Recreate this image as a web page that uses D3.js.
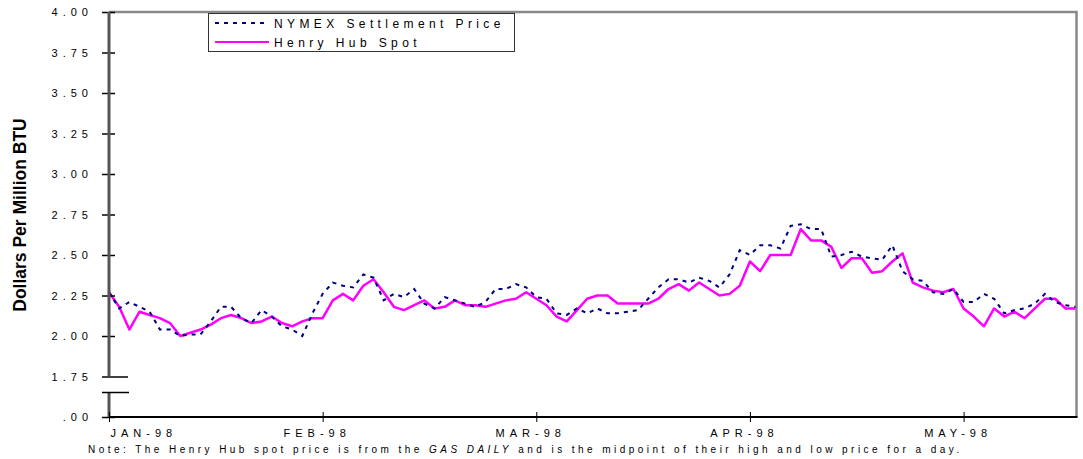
<!DOCTYPE html>
<html>
  <head>
    <title>NYMEX vs Henry Hub</title>
    <meta http-equiv="Content-Type" content="text/html;charset=utf-8">
    <script src="https://cdn.jsdelivr.net/npm/d3@7"></script>
    <style>
      body { margin: 0; background: #fff; }
      text { font-family: Arial, 'Liberation Sans', sans-serif; fill: #000; }
      .tick text { font-size: 11px; }
    </style>
  </head>
  <body>
    <div id="chart"></div>
    <script>
      // series, one value per trading day (Jan - May 1998)
      var nymex = [
        2.27, 2.17, 2.21, 2.18, 2.15, 2.04, 2.04, 2.00, 2.01, 2.01,
        2.09, 2.18, 2.18, 2.11, 2.08, 2.16, 2.12, 2.06, 2.04, 2.00,
        2.14, 2.26, 2.33, 2.31, 2.30, 2.38, 2.36, 2.22, 2.26, 2.24,
        2.29, 2.20, 2.17, 2.24, 2.22, 2.20, 2.18, 2.21, 2.29, 2.29,
        2.32, 2.30, 2.24, 2.23, 2.14, 2.13, 2.17, 2.14, 2.17, 2.14,
        2.14, 2.15, 2.16, 2.23, 2.30, 2.35, 2.35, 2.33, 2.36, 2.34,
        2.30, 2.38, 2.53, 2.50, 2.56, 2.56, 2.54, 2.68, 2.69, 2.66,
        2.66, 2.49, 2.50, 2.52, 2.49, 2.48, 2.47, 2.56, 2.40, 2.35,
        2.34, 2.27, 2.26, 2.29, 2.21, 2.21, 2.26, 2.23, 2.14, 2.16,
        2.17, 2.20, 2.26, 2.21, 2.19, 2.18
      ];
      var henryHub = [
        2.27, 2.18, 2.04, 2.15, 2.13, 2.11, 2.08, 2.00, 2.02, 2.04,
        2.07, 2.11, 2.13, 2.11, 2.08, 2.09, 2.12, 2.08, 2.06, 2.09,
        2.11, 2.11, 2.22, 2.26, 2.22, 2.31, 2.35, 2.27, 2.18, 2.16,
        2.19, 2.22, 2.17, 2.18, 2.22, 2.19, 2.19, 2.18, 2.20, 2.22,
        2.23, 2.27, 2.23, 2.19, 2.12, 2.09, 2.16, 2.23, 2.25, 2.25,
        2.20, 2.20, 2.20, 2.20, 2.23, 2.29, 2.32, 2.28, 2.33, 2.29,
        2.25, 2.26, 2.31, 2.46, 2.40, 2.50, 2.50, 2.50, 2.66, 2.59,
        2.59, 2.55, 2.42, 2.48, 2.48, 2.39, 2.40, 2.46, 2.51, 2.33,
        2.30, 2.28, 2.27, 2.29, 2.17, 2.12, 2.06, 2.17, 2.12, 2.15,
        2.11, 2.17, 2.23, 2.23, 2.17, 2.17
      ];
      var monthLabels = ['JAN-98', 'FEB-98', 'MAR-98', 'APR-98', 'MAY-98'];
      var monthStarts = [0, 21, 42, 63, 84];
      var yTicks = [1.5, 1.75, 2.0, 2.25, 2.5, 2.75, 3.0, 3.25, 3.5, 3.75, 4.0];
      var seriesNames = ['NYMEX Settlement Price', 'Henry Hub Spot'];

      (function(d3) {
        'use strict';

        var width = 1083;
        var height = 459;
        var left = 109, right = 1075.5, top = 12, bottom = 417;

        var svg = d3.select('#chart')
          .append('svg')
          .attr('width', width)
          .attr('height', height);

        var x = d3.scaleLinear()
          .domain([0, henryHub.length - 1])
          .range([left, right]);

        // axis starts at 1.50 but is labelled .00 (broken axis)
        var y = d3.scaleLinear()
          .domain([1.5, 4.0])
          .range([bottom, top]);

        // frame: grey top and right edges
        svg.append('path')
          .attr('d', 'M' + left + ',' + top + 'H' + (right + 1) + 'V' + bottom)
          .attr('fill', 'none')
          .attr('stroke', '#8a8a8a')
          .attr('stroke-width', 2.5);

        // lines
        var line = d3.line()
          .x(function(d, i) { return x(i); })
          .y(function(d) { return y(d); });

        svg.append('path')
          .datum(henryHub)
          .attr('d', line)
          .attr('fill', 'none')
          .attr('stroke', '#ff00ff')
          .attr('stroke-width', 2.5)
          .attr('stroke-linejoin', 'round');

        svg.append('path')
          .datum(nymex)
          .attr('d', line)
          .attr('fill', 'none')
          .attr('stroke', '#000080')
          .attr('stroke-width', 2)
          .attr('stroke-dasharray', '4,5');

        // y axis
        var yAxis = svg.append('g')
          .attr('transform', 'translate(' + left + ',0)')
          .call(d3.axisLeft(y)
            .tickValues(yTicks)
            .tickFormat(function(d) { return d === 1.5 ? '.00' : d3.format('.2f')(d); }));
        yAxis.select('.domain').remove();
        yAxis.selectAll('.tick line')
          .attr('x1', -7)
          .attr('x2', function(d) { return d === 1.75 ? 19 : 6; })
          .attr('stroke', '#000')
          .attr('stroke-width', 1.5);
        yAxis.selectAll('.tick text')
          .attr('x', -16)
          .attr('letter-spacing', '5px');

        // axis line with the break between .00 and 1.75
        var breakY = y(1.75) + 16;
        yAxis.append('path')
          .attr('d', 'M0,' + top + 'V' + y(1.75) + 'M0,' + breakY + 'V' + bottom)
          .attr('stroke', '#555')
          .attr('stroke-width', 3);
        yAxis.append('line')
          .attr('x1', -7).attr('x2', 20)
          .attr('y1', breakY).attr('y2', breakY)
          .attr('stroke', '#000')
          .attr('stroke-width', 1.5);

        // x axis
        var xAxis = svg.append('g')
          .attr('transform', 'translate(0,' + bottom + ')')
          .call(d3.axisBottom(x)
            .tickValues(monthStarts)
            .tickFormat(function(d, i) { return monthLabels[i]; }));
        xAxis.select('.domain')
          .attr('d', 'M' + left + ',0H' + (right + 2))
          .attr('stroke', '#000')
          .attr('stroke-width', 2);
        xAxis.selectAll('.tick line')
          .attr('y1', -5)
          .attr('y2', 5)
          .attr('stroke', '#000');
        xAxis.selectAll('.tick text')
          .attr('dy', null)
          .attr('y', 19.5)
          .attr('font-size', '12.5px')
          .attr('letter-spacing', '5px')
          .attr('text-anchor', function(d, i) { return i === 0 ? 'start' : 'middle'; })
          .attr('dx', function(d, i) { return i === 0 ? 1 : -6; });

        // y title
        svg.append('text')
          .attr('transform', 'translate(26,215) rotate(-90)')
          .attr('text-anchor', 'middle')
          .style('font-size', '17.5px')
          .style('font-weight', 'bold')
          .text('Dollars Per Million BTU');

        // note
        var note = svg.append('text')
          .attr('x', 88)
          .attr('y', 453)
          .attr('font-size', '10px')
          .attr('letter-spacing', '3.45px');
        note.append('tspan').text('Note: The Henry Hub spot price is from the ');
        note.append('tspan').style('font-style', 'italic').text('GAS DAILY');
        note.append('tspan').text(' and is the midpoint of their high and low price for a day.');

        // legend
        var legend = svg.append('g');
        legend.append('rect')
          .attr('x', 208.5).attr('y', 13.5)
          .attr('width', 306).attr('height', 38)
          .attr('fill', '#fff')
          .attr('stroke', '#333');

        var legendItems = legend.selectAll('.legend')
          .data(seriesNames)
          .enter()
          .append('g')
          .attr('class', 'legend')
          .attr('transform', function(d, i) {
            return 'translate(215,' + (23 + i * 19) + ')';
          });

        legendItems.append('line')
          .attr('x1', 0).attr('x2', 54)
          .attr('stroke', function(d, i) { return i === 0 ? '#000080' : '#ff00ff'; })
          .attr('stroke-width', 2)
          .attr('stroke-dasharray', function(d, i) { return i === 0 ? '4,5' : null; });

        legendItems.append('text')
          .attr('x', 59)
          .attr('y', 4.5)
          .attr('font-size', '12px')
          .attr('letter-spacing', '4.4px')
          .text(function(d) { return d; });

      })(window.d3);
    </script>
  </body>
</html>
